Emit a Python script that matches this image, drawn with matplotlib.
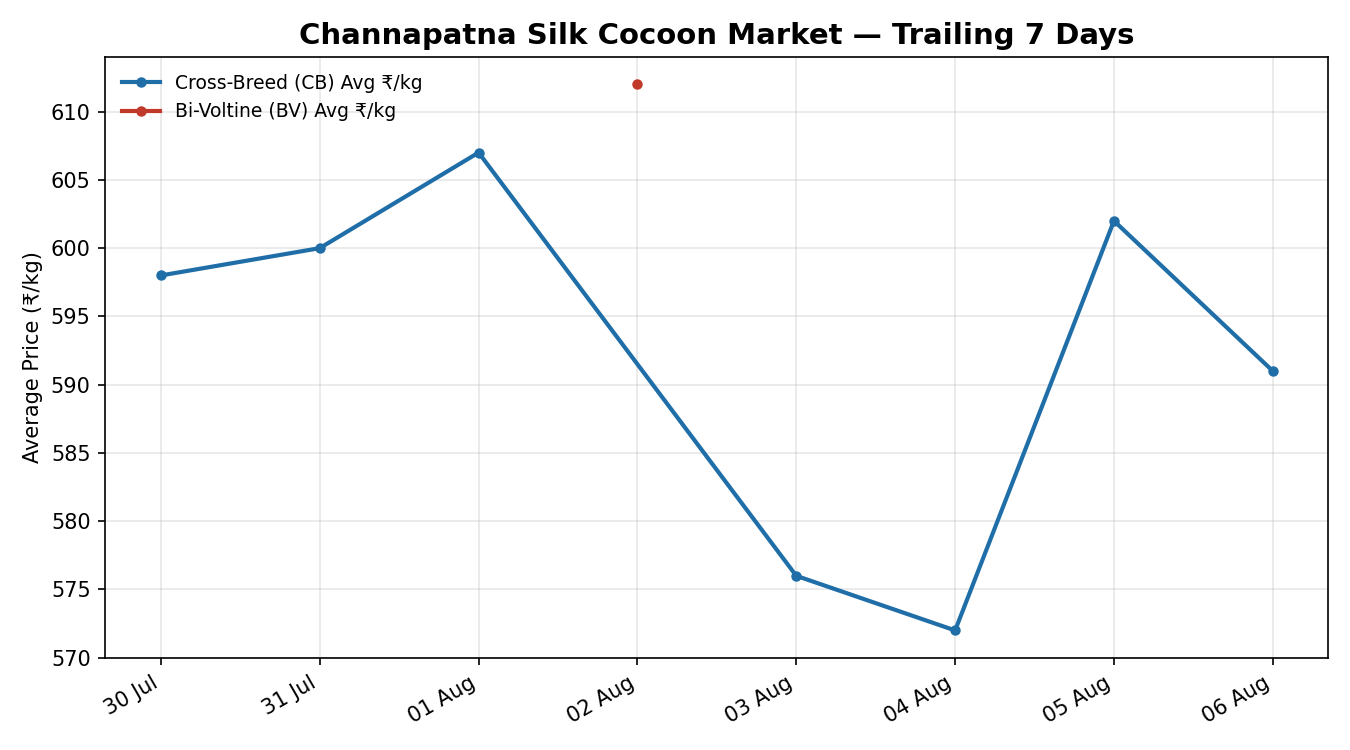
import numpy as np
import pandas as pd
import matplotlib
matplotlib.use('Agg')
import matplotlib.pyplot as plt
import matplotlib.dates as mdates

# CB prices (no entry for 02 Aug)
cb_dates = ['2024-07-30', '2024-07-31', '2024-08-01', '2024-08-03',
            '2024-08-04', '2024-08-05', '2024-08-06']
cb_prices = [598, 600, 607, 576, 572, 602, 591]

# BV prices (only one day reported)
bv_dates = ['2024-08-02']
bv_prices = [612]

cb_x = pd.to_datetime(cb_dates)
bv_x = pd.to_datetime(bv_dates)

fig, ax = plt.subplots(figsize=(9, 5), dpi=150)
fig.subplots_adjust(left=0.078, right=0.984, top=0.924, bottom=0.123)

ax.plot(cb_x, cb_prices, color='#1f6ea8', lw=2, marker='o', ms=4,
        label='Cross-Breed (CB) Avg ₹/kg')
ax.plot(bv_x, bv_prices, color='#c0392b', lw=2, marker='o', ms=4,
        label='Bi-Voltine (BV) Avg ₹/kg')

ax.set_title('Channapatna Silk Cocoon Market — Trailing 7 Days',
             fontsize=14, fontweight='bold')
ax.set_ylabel('Average Price (₹/kg)')
ax.grid(True, alpha=0.3)
ax.xaxis.set_major_locator(mdates.DayLocator())
ax.xaxis.set_major_formatter(mdates.DateFormatter('%d %b'))
for lbl in ax.get_xticklabels():
    lbl.set_rotation(30)
    lbl.set_ha('right')
ax.legend(loc='upper left', frameon=False, fontsize=9)

fig.savefig('out.png')
